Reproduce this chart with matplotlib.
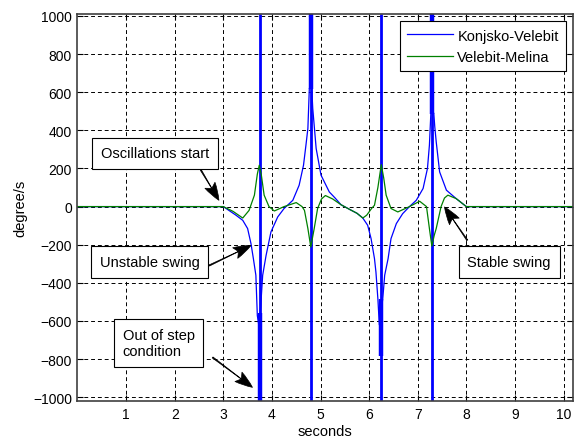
import numpy as np
import matplotlib.pyplot as plt

# angular speed difference, Konjsko-Velebit line (deg/s)
t_kv = [0.0, 3.0, 3.26, 3.40, 3.50, 3.57, 3.62, 3.67, 3.70, 3.73,
        3.77, 3.81, 3.88, 3.98, 4.12, 4.25, 4.43, 4.56, 4.65, 4.70, 4.74, 4.77,
        4.82, 4.84, 4.91, 5.01, 5.18, 5.30, 5.42, 5.60, 5.75, 5.87, 5.97, 6.04,
        6.11, 6.14, 6.18, 6.21,
        6.28, 6.32, 6.39, 6.45, 6.56, 6.69, 6.83, 6.97, 7.11, 7.20, 7.24, 7.27,
        7.33, 7.35, 7.38, 7.45, 7.59, 7.79, 8.0, 10.2]
kv = [0, 0, -45, -72, -115, -195, -275, -360, -572, -620,
      -520, -360, -256, -133, -54, -10, 33, 112, 217, 322, 410, 620,
      620, 515, 305, 165, 77, 45, 10, -15, -35, -60, -98, -168,
      -273, -343, -484, -620,
      -484, -360, -273, -168, -89, -37, 0, 33, 95, 200, 322, 490,
      490, 420, 340, 182, 86, 42, 0, 0]

# Velebit-Melina line (deg/s)
t_vm = [0.0, 3.0, 3.2, 3.40, 3.53, 3.64, 3.70, 3.74, 3.78, 3.84, 3.94, 4.05,
        4.25, 4.50, 4.62, 4.67, 4.74, 4.80, 4.87, 4.94, 5.02, 5.10, 5.25, 5.42,
        5.60, 5.75, 5.87, 5.95, 6.05, 6.11, 6.18, 6.25, 6.30, 6.35, 6.45, 6.59,
        6.83, 7.04, 7.18, 7.24, 7.29, 7.34, 7.38, 7.48, 7.55, 7.62, 7.79, 8.0, 10.2]
vm = [0, 0, -25, -60, -20, 60, 170, 217, 170, 60, 0, -23,
      0, 21, 0, -20, -115, -212, -115, -10, 40, 58, 40, 10,
      -15, -35, -60, -45, -10, 7, 100, 220, 150, 60, -10, -28,
      0, 28, 0, -115, -207, -150, -115, 0, 45, 60, 42, 0, 0]

# pole slips: the speed signal wraps through the full range here
pole_t = [3.75, 4.8, 6.25, 7.3]
burst_lo = [-1017, 617, -781, 486]
burst_hi = [-560, 1010, -484, 1010]

notes = ['Oscillations start', 'Unstable swing', 'Out of step\ncondition', 'Stable swing']
note_pos = [(0.48, 279), (0.46, -291), (0.93, -715), (8.02, -291)]
arrow_tail = [(2.54, 191), (2.71, -309), (2.78, -791), (8.02, -177)]
arrow_tip = [(2.91, 33), (3.57, -204), (3.60, -948), (7.55, -2)]

plt.rcParams['font.family'] = ['Liberation Sans', 'DejaVu Sans']

fig = plt.figure(figsize=(5.76, 4.39), dpi=100)
ax = fig.add_axes([0.1345, 0.0854, 0.8608, 0.8804])

ax.plot(t_kv, kv, color='b', lw=0.9, label='Konjsko-Velebit')
ax.vlines(pole_t, -1017, 1010, color='b', lw=2.0)
ax.vlines(pole_t, burst_lo, burst_hi, color='b', lw=3.2)
ax.plot(t_vm, vm, color='#008000', lw=0.9, label='Velebit-Melina')

ax.set_xlim(0, 10.2)
ax.set_ylim(-1017, 1010)
ax.set_xticks(np.arange(1, 11))
ax.set_yticks(np.arange(-1000, 1001, 200))
ax.grid(True, color='k', linestyle=(0, (4, 3)), lw=0.7)
ax.tick_params(direction='in', length=4, top=True, right=True, labelsize=10)
ax.tick_params(axis='y', pad=4)
ax.tick_params(axis='x', pad=5)
for s in ax.spines.values():
    s.set_color('#404040')
    s.set_linewidth(1.2)

ax.set_xlabel('seconds', fontsize=10.5, labelpad=2)
ax.set_ylabel('degree/s', fontsize=10.5, labelpad=4)

for txt, p in zip(notes, note_pos):
    ax.text(p[0], p[1], txt, fontsize=10.5, ha='left', va='center', zorder=5,
            bbox=dict(boxstyle='square,pad=0.6', fc='w', ec='k', lw=0.8))
for a, b in zip(arrow_tail, arrow_tip):
    ax.annotate('', xy=b, xytext=a, zorder=6,
                arrowprops=dict(arrowstyle='fancy,head_length=0.9,head_width=0.6,tail_width=0.06',
                                fc='k', ec='k', lw=0.5, mutation_scale=14,
                                shrinkA=0, shrinkB=0))

leg = ax.legend(loc='upper right', fontsize=10.5, handlelength=3.15,
                handletextpad=0.3, borderpad=0.5, labelspacing=0.5,
                borderaxespad=0.5, fancybox=False, edgecolor='k', framealpha=1)
leg.get_frame().set_linewidth(0.8)

fig.savefig('out.png', dpi=100)
